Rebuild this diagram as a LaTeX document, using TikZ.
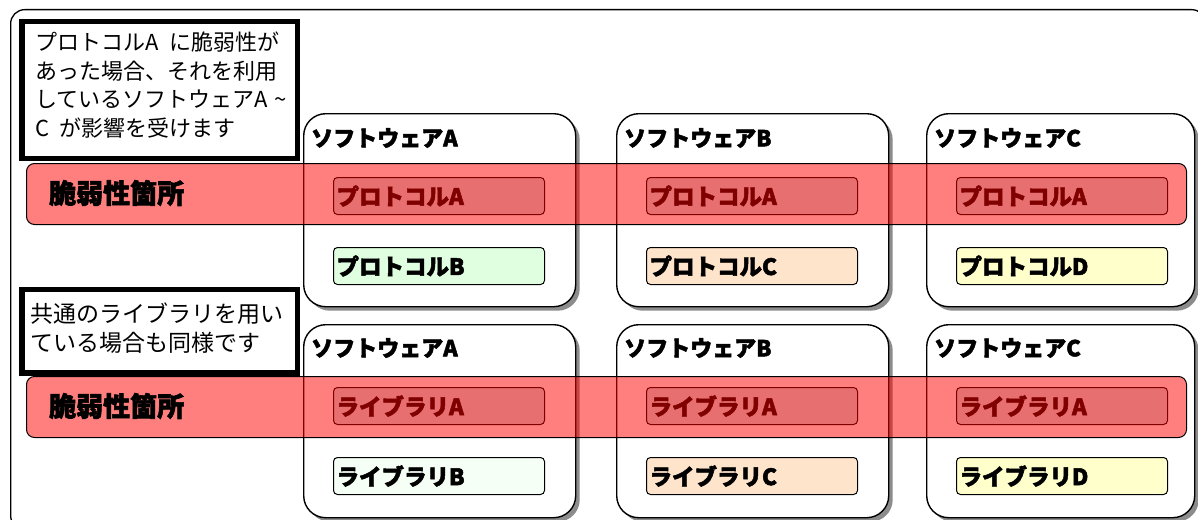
\documentclass[tikz,border=0pt]{standalone}
\usepackage{fontspec}
\setmainfont{Noto Sans CJK JP}[BoldFeatures={FakeBold=2.2}]
\usetikzlibrary{shadows}
\definecolor{protA}{RGB}{209,224,224}
\definecolor{grn}{RGB}{224,255,224}
\definecolor{grnl}{RGB}{246,255,246}
\definecolor{peach}{RGB}{255,228,204}
\definecolor{ylw}{RGB}{255,255,204}
\begin{document}
\begin{tikzpicture}[x=1pt,y=-1pt,
  frame/.style={draw=black,line width=1.3pt,rounded corners=14pt,anchor=north west,inner sep=0pt},
  notebox/.style={draw=black,line width=5.5pt,fill=white,anchor=north west,inner sep=0pt,
     drop shadow={shadow xshift=2pt,shadow yshift=-2pt,fill=black!40,opacity=1}},
  notetext/.style={anchor=north west,inner sep=0pt,align=left},
  swbox/.style={draw=black,line width=1.4pt,fill=white,rounded corners=22pt,anchor=north west,inner sep=0pt,
     minimum height=193pt,
     drop shadow={shadow xshift=4pt,shadow yshift=-4pt,fill=black!45,opacity=1}},
  swtitle/.style={anchor=west,inner sep=0pt,font=\fontsize{22}{24}\selectfont\bfseries},
  inbox/.style={draw=black,line width=1pt,rounded corners=4pt,anchor=north west,minimum height=37pt,
     text width=205pt,inner sep=3pt,align=left,font=\fontsize{22.5}{24}\selectfont\bfseries},
  band/.style={draw=black,line width=1pt,fill=red,fill opacity=0.5,rounded corners=8pt,anchor=north west,
     inner sep=0pt,minimum width=1160pt,minimum height=61pt},
  bandtext/.style={anchor=west,inner sep=0pt,font=\fontsize{27}{29}\selectfont\bfseries}]
\useasboundingbox (0,0) rectangle (1198,519);
\clip (0,0) rectangle (1198,519);
% outer frame
\node[frame,minimum width=1195pt,minimum height=520pt] (outer) at (10,9) {};
% notes
\node[notebox,minimum width=275.5pt,minimum height=136.5pt] (note1) at (19,19) {};
\node[notetext,font=\fontsize{22}{28.5}\selectfont] (note1t) at (35,32)
  {プロトコルA\hspace{0.5em}に脆弱性が\\あった場合、それを利用\\しているソフトウェアA\hspace{0.3em}\textasciitilde\\C\hspace{0.45em}が影響を受けます};
\node[notebox,minimum width=275.5pt,minimum height=83.5pt] (note2) at (19,286.5) {};
\node[notetext,font=\fontsize{23}{28.5}\selectfont] (note2t) at (30,303)
  {共通のライブラリを用い\\ている場合も同様です};
% top row
\node[swbox,minimum width=272pt] (swA1) at (303,113) {};
\node[swbox,minimum width=272pt] (swB1) at (616,113) {};
\node[swbox,minimum width=268pt] (swC1) at (926,113) {};
\node[swtitle] (tA1) at (311,138) {ソフトウェアA};
\node[swtitle] (tB1) at (624,138) {ソフトウェアB};
\node[swtitle] (tC1) at (934,138) {ソフトウェアC};
\node[inbox,fill=protA] (pA1) at (333,177) {プロトコルA};
\node[inbox,fill=protA] (pA2) at (646,177) {プロトコルA};
\node[inbox,fill=protA] (pA3) at (956,177) {プロトコルA};
\node[inbox,fill=grn] (pB) at (333,247) {プロトコルB};
\node[inbox,fill=peach] (pC) at (646,247) {プロトコルC};
\node[inbox,fill=ylw] (pD) at (956,247) {プロトコルD};
% bottom row
\node[swbox,minimum width=272pt] (swA2) at (303,324) {};
\node[swbox,minimum width=272pt] (swB2) at (616,324) {};
\node[swbox,minimum width=268pt] (swC2) at (926,324) {};
\node[swtitle] (tA2) at (311,348) {ソフトウェアA};
\node[swtitle] (tB2) at (624,348) {ソフトウェアB};
\node[swtitle] (tC2) at (934,348) {ソフトウェアC};
\node[inbox,fill=protA] (lA1) at (333,387) {ライブラリA};
\node[inbox,fill=protA] (lA2) at (646,387) {ライブラリA};
\node[inbox,fill=protA] (lA3) at (956,387) {ライブラリA};
\node[inbox,fill=grnl] (lB) at (333,457) {ライブラリB};
\node[inbox,fill=peach] (lC) at (646,457) {ライブラリC};
\node[inbox,fill=ylw] (lD) at (956,457) {ライブラリD};
% vulnerable bands
\node[band] (band1) at (26,163) {};
\node[band] (band2) at (26,376) {};
\node[bandtext] (bt1) at (49,193) {脆弱性箇所};
\node[bandtext] (bt2) at (49,406) {脆弱性箇所};
\end{tikzpicture}
\end{document}
